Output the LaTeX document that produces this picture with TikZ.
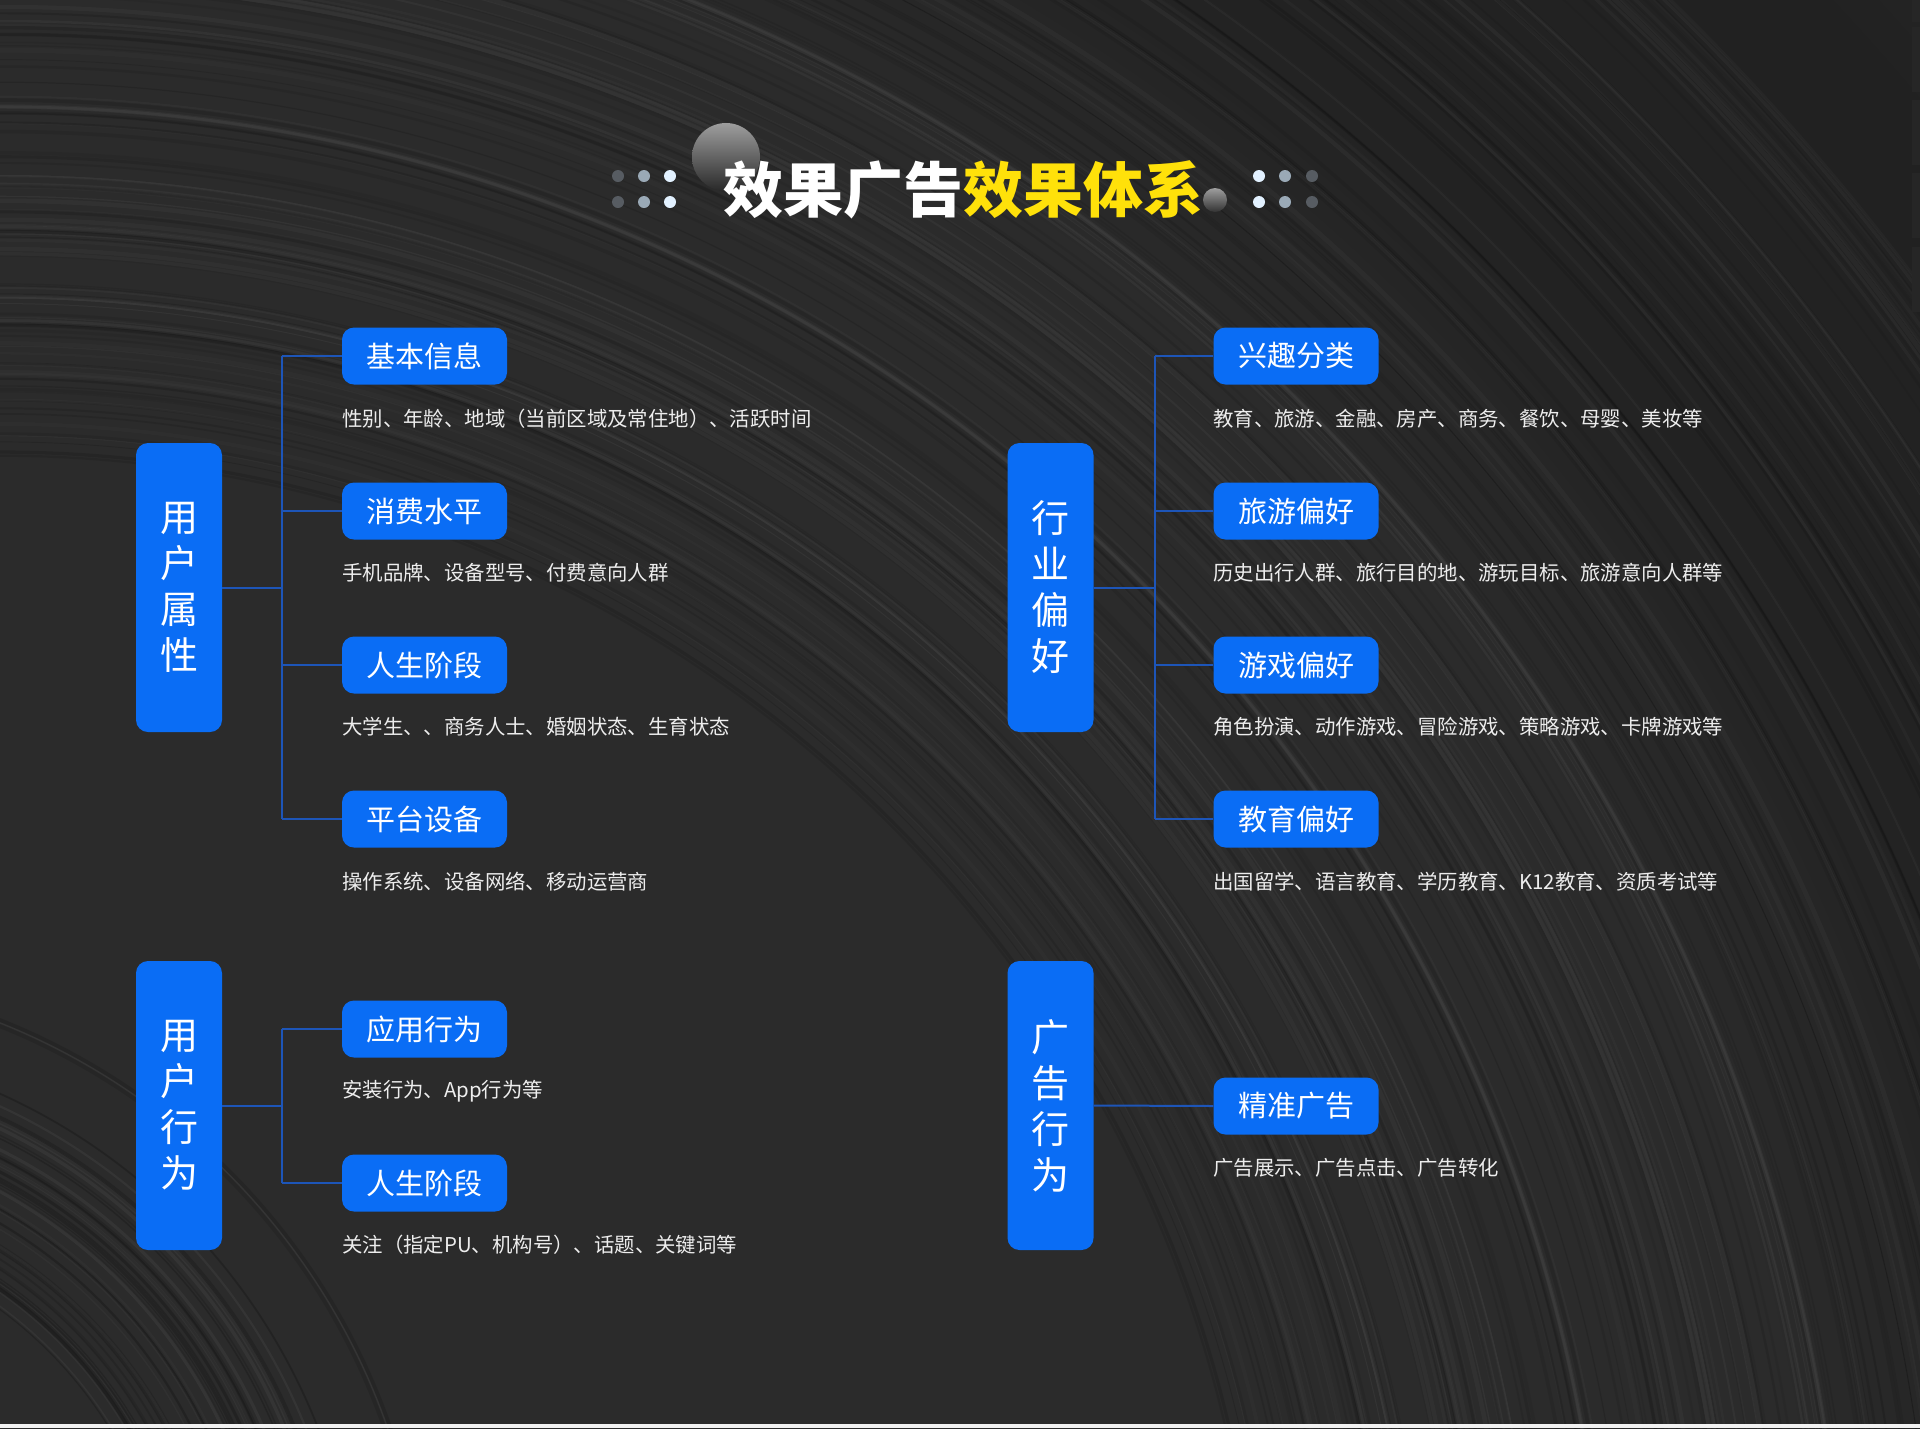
\documentclass[tikz,border=0pt]{standalone}
\usepackage{fontspec}
\setmainfont{Noto Sans CJK SC}
\definecolor{boxblue}{HTML}{0A6DF5}
\definecolor{linkblue}{HTML}{1D55B8}
\definecolor{titleyellow}{HTML}{FFE10A}
\definecolor{desctext}{HTML}{EDEDED}
\definecolor{dotA}{HTML}{E2F1FF}
\definecolor{dotB}{HTML}{9AA9B6}
\definecolor{dotC}{HTML}{575C62}
\pgfdeclareradialshading{rings}{\pgfpoint{0bp}{0bp}}{%
color(0bp)=(white!17!black);
color(16bp)=(white!17!black);
color(18.75bp)=(white!13.5!black);
color(22.3bp)=(white!13!black);
color(24.6bp)=(white!16!black);
color(26.4bp)=(white!13!black);
color(28.6bp)=(white!11.5!black);
color(30.7bp)=(white!14!black);
color(32.1bp)=(white!16!black);
color(33.9bp)=(white!15!black);
color(35.7bp)=(white!16.5!black);
color(37.1bp)=(white!14!black);
color(38.9bp)=(white!21!black);
color(40.7bp)=(white!24!black);
color(42.5bp)=(white!19!black);
color(46.4bp)=(white!20!black);
color(50bp)=(white!20!black)}
\tikzset{
  bigbox/.style={fill=boxblue, rounded corners=12pt, minimum width=86pt,
    minimum height=289pt, inner sep=0pt, text=white, align=center,
    font=\fontsize{38}{46}\selectfont},
  subbox/.style={fill=boxblue, rounded corners=12pt, minimum width=165pt,
    minimum height=57pt, inner sep=0pt, text=white,
    font=\fontsize{29}{34}\selectfont},
  desc/.style={anchor=west, inner sep=0pt, text=desctext,
    font=\fontsize{20.4}{24}\selectfont},
  link/.style={draw=linkblue, line width=2pt}
}
\begin{document}
\begin{tikzpicture}[x=1pt,y=-1pt]
\useasboundingbox (0,0) rectangle (1920,1428);
% ---------- background ----------
\fill[white!14!black] (0,0) rectangle (1920,1428);
\begin{scope}
\clip (0,0) rectangle (1920,1428);
\coordinate (bgc) at (0,1714);
\shade[shading=rings] (bgc) circle (2800pt);
\pgfmathsetseed{42}
\foreach \i in {1,...,90}{
  \pgfmathsetmacro{\rr}{1250+1150*rnd}
  \pgfmathsetmacro{\ww}{1+4*rnd}
  \pgfmathsetmacro{\oo}{0.012+0.028*rnd}
  \draw[white, opacity=\oo, line width=\ww pt] (bgc) circle (\rr pt);
}
\foreach \i in {1,...,110}{
  \pgfmathsetmacro{\rr}{1250+1150*rnd}
  \pgfmathsetmacro{\ww}{0.8+3*rnd}
  \pgfmathsetmacro{\oo}{0.05+0.08*rnd}
  \draw[black, opacity=\oo, line width=\ww pt] (bgc) circle (\rr pt);
}
\coordinate (bgd) at (-250,1650);
\foreach \i in {1,...,30}{
  \pgfmathsetmacro{\rr}{420+260*rnd}
  \pgfmathsetmacro{\ww}{1+3*rnd}
  \pgfmathsetmacro{\oo}{0.08+0.12*rnd}
  \draw[black, opacity=\oo, line width=\ww pt] (bgd) circle (\rr pt);
}
\foreach \i in {1,...,14}{
  \pgfmathsetmacro{\rr}{420+260*rnd}
  \pgfmathsetmacro{\ww}{1+3*rnd}
  \pgfmathsetmacro{\oo}{0.02+0.03*rnd}
  \draw[white, opacity=\oo, line width=\ww pt] (bgd) circle (\rr pt);
}
\end{scope}
% right edge strip and bottom strip
\foreach \a/\b in {0/22,27/92,100/165,173/238,247/312}
  \fill[black!85] (1912,\a) rectangle (1920,\b);
\fill[white!95!black] (0,1424) rectangle (1920,1428);
% ---------- title ----------
\shade[top color=white!62!black, bottom color=white!16!black] (726,157) circle (34pt);
\shade[top color=white!62!black, bottom color=white!20!black] (1215,200) circle (12pt);
\foreach \y in {176,202}{
  \fill[dotC] (618,\y) circle (6pt);
  \fill[dotB] (644,\y) circle (6pt);
  \fill[dotA] (670,\y) circle (6pt);
  \fill[dotA] (1259,\y) circle (6pt);
  \fill[dotB] (1285,\y) circle (6pt);
  \fill[dotC] (1312,\y) circle (6pt);
}
\node[inner sep=0pt, font=\bfseries\fontsize{60}{60}\selectfont] (title) at (963,190)
  {\textcolor{white}{效果广告}\textcolor{titleyellow}{效果体系}};
% ---------- group 1: 用户属性 ----------
\node[bigbox] (ua) at (179,587.5) {用\\户\\属\\性};
\node[subbox] (ua1) at (424.5,356) {基本信息};
\node[subbox] (ua2) at (424.5,511) {消费水平};
\node[subbox] (ua3) at (424.5,665) {人生阶段};
\node[subbox] (ua4) at (424.5,819) {平台设备};
\node[desc] (da1) at (342,419) {性别、年龄、地域（当前区域及常住地）、活跃时间};
\node[desc] (da2) at (342,573) {手机品牌、设备型号、付费意向人群};
\node[desc] (da3) at (342,727) {大学生、、商务人士、婚姻状态、生育状态};
\node[desc] (da4) at (342,882) {操作系统、设备网络、移动运营商};
\coordinate (busA) at (282,0);
\draw[link] (ua.east) -- (ua.east -| busA);
\draw[link] (ua1.west -| busA) -- (ua4.west -| busA);
\foreach \n in {ua1,ua2,ua3,ua4}
  \draw[link] (\n.west -| busA) -- (\n.west);
% ---------- group 2: 用户行为 ----------
\node[bigbox] (ub) at (179,1105.5) {用\\户\\行\\为};
\node[subbox] (ub1) at (424.5,1029) {应用行为};
\node[subbox] (ub2) at (424.5,1183) {人生阶段};
\node[desc] (db1) at (342,1091) {安装行为、App行为等};
\node[desc] (db2) at (342,1245) {关注（指定PU、机构号）、话题、关键词等};
\coordinate (busB) at (282,0);
\draw[link] (ub.east) -- (ub.east -| busB);
\draw[link] (ub1.west -| busB) -- (ub2.west -| busB);
\foreach \n in {ub1,ub2}
  \draw[link] (\n.west -| busB) -- (\n.west);
% ---------- group 3: 行业偏好 ----------
\node[bigbox] (ic) at (1050.5,587.5) {行\\业\\偏\\好};
\node[subbox] (ic1) at (1296,356) {兴趣分类};
\node[subbox] (ic2) at (1296,511) {旅游偏好};
\node[subbox] (ic3) at (1296,665) {游戏偏好};
\node[subbox] (ic4) at (1296,819) {教育偏好};
\node[desc] (dc1) at (1213,419) {教育、旅游、金融、房产、商务、餐饮、母婴、美妆等};
\node[desc] (dc2) at (1213,573) {历史出行人群、旅行目的地、游玩目标、旅游意向人群等};
\node[desc] (dc3) at (1213,727) {角色扮演、动作游戏、冒险游戏、策略游戏、卡牌游戏等};
\node[desc] (dc4) at (1213,882) {出国留学、语言教育、学历教育、K12教育、资质考试等};
\coordinate (busC) at (1155,0);
\draw[link] (ic.east) -- (ic.east -| busC);
\draw[link] (ic1.west -| busC) -- (ic4.west -| busC);
\foreach \n in {ic1,ic2,ic3,ic4}
  \draw[link] (\n.west -| busC) -- (\n.west);
% ---------- group 4: 广告行为 ----------
\node[bigbox] (ad) at (1050.5,1105.5) {广\\告\\行\\为};
\node[subbox] (ad1) at (1296,1106) {精准广告};
\node[desc] (dd1) at (1213,1168) {广告展示、广告点击、广告转化};
\draw[link] (ad.east) -- (ad1.west);
\end{tikzpicture}
\end{document}
